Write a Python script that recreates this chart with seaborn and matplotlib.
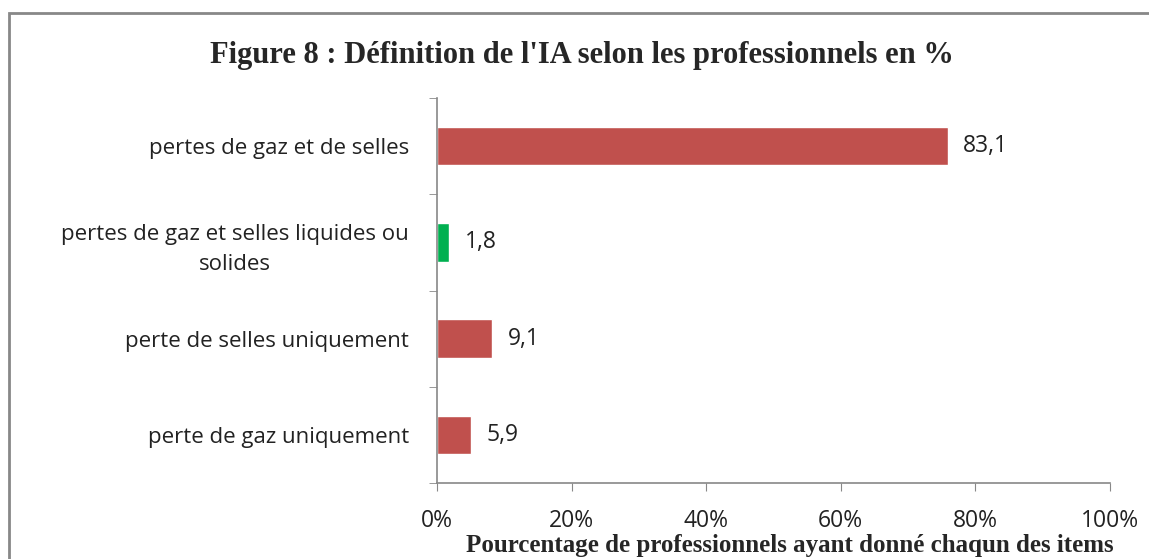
import matplotlib
matplotlib.use("Agg")
import matplotlib.pyplot as plt
import seaborn as sns
import pandas as pd
from matplotlib.patches import Rectangle

# categories from top to bottom, as in the picture
categories = ["pertes de gaz et de selles",
              "pertes de gaz et selles liquides ou\nsolides",
              "perte de selles uniquement",
              "perte de gaz uniquement"]
# bar lengths as drawn (in %), and the printed labels
bar_values = [75.9, 1.8, 8.2, 5.1]
value_labels = ["83,1", "1,8", "9,1", "5,9"]
bar_colors = ["#c0504d", "#00b050", "#c0504d", "#c0504d"]
x_ticks = [0, 20, 40, 60, 80, 100]

df = pd.DataFrame({"cat": categories, "val": bar_values})

sns.set_style("white")
plt.rcParams['font.family'] = ['Open Sans', 'DejaVu Sans']

fig = plt.figure(figsize=(11.49, 5.59), dpi=100)
ax = fig.add_axes([437/1149, 1-483/559, (1110-437)/1149, (483-98)/559])

sns.barplot(data=df, x="val", y="cat", hue="cat", palette=bar_colors, saturation=1,
            legend=False, orient="h", width=0.4, ax=ax)

for i, (v, lab) in enumerate(zip(bar_values, value_labels)):
    ax.text(v + 2.3, i, lab, va="center", ha="left", fontsize=16.5, color="#222222")

ax.set_xlim(0, 100)
ax.set_ylim(len(categories) - 0.5, -0.5)
ax.set_xticks(x_ticks)
ax.set_xticklabels([f"{t}%" for t in x_ticks], fontsize=16.5, color="#222222")
ax.set_yticks(range(len(categories)))
ax.set_yticklabels(categories, fontsize=16, color="#222222",
                   multialignment="center", linespacing=1.6)
ax.set_yticks([i - 0.5 for i in range(len(categories) + 1)], minor=True)
ax.tick_params(axis="y", which="major", length=0, pad=20)
ax.tick_params(axis="y", which="minor", length=6, color="#888888", direction="out", left=True)
ax.tick_params(axis="x", length=6, color="#888888", direction="out", bottom=True, pad=13)
ax.set_xlabel("")
ax.set_ylabel("")

for s in ["top", "right"]:
    ax.spines[s].set_visible(False)
for s in ["left", "bottom"]:
    ax.spines[s].set_color("#888888")
    ax.spines[s].set_linewidth(1.2)

fig.text(582/1149, 1-55/559, "Figure 8 : Définition de l'IA selon les professionnels en %",
         ha="center", va="center", fontsize=22, fontweight="bold", family="Liberation Serif")
fig.text(790/1149, 2/559, "Pourcentage de professionnels ayant donné chaqun des items",
         ha="center", va="bottom", fontsize=18, fontweight="bold", family="Liberation Serif")

fig.patches.append(Rectangle((9/1149, -0.1), 1.2, 1.1 - 13/559, transform=fig.transFigure,
                             fill=False, edgecolor="#888888", linewidth=2))

fig.savefig("out.png", dpi=100)
